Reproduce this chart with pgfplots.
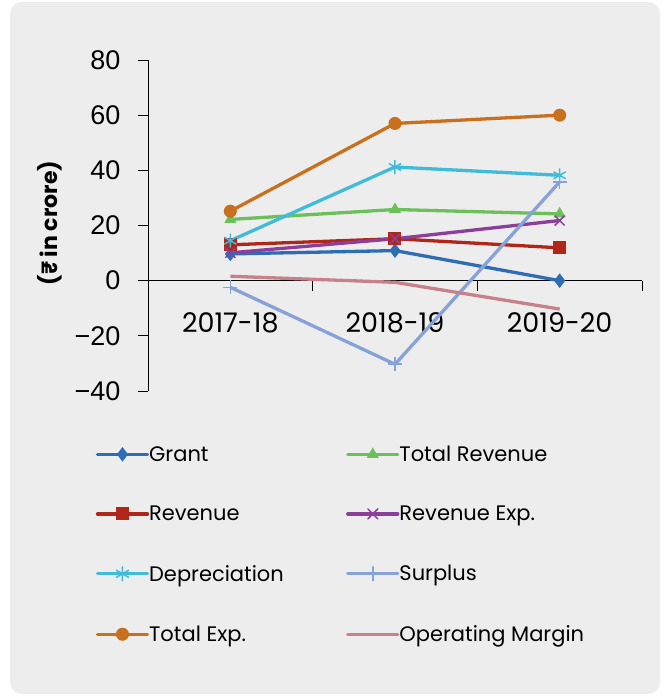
\documentclass[border=0pt]{standalone}
\usepackage{pgfplots}
\pgfplotsset{compat=1.18}
\usepackage{fontspec}
\setmainfont{Poppins}
\newfontfamily\arialfont{Liberation Sans}
\definecolor{bgc}{HTML}{EDEDED}
\definecolor{cGrant}{HTML}{2E6DB4}
\definecolor{cTotRev}{HTML}{6CC05A}
\definecolor{cRev}{HTML}{B0271A}
\definecolor{cRevExp}{HTML}{8B3F9B}
\definecolor{cDep}{HTML}{40BCDB}
\definecolor{cSur}{HTML}{86A2D8}
\definecolor{cTotExp}{HTML}{C8701E}
\definecolor{cOM}{HTML}{C8808A}
\begin{document}
\begin{tikzpicture}[x=1pt,y=1pt]
\fill[white] (0,0) rectangle (669,697);
\fill[bgc, rounded corners=12pt] (10,3) rectangle (660,695);
% category axis drawn at y = 0 of the value axis
\begin{axis}[
  at={(148pt,417pt)}, anchor=south west,
  scale only axis, width=494pt, height=20pt,
  xmin=-0.5, xmax=2.5, ymin=0, ymax=1,
  axis y line=none, axis x line=bottom,
  axis line style={-, black, line width=0.8pt},
  tick align=outside, major tick length=0pt,
  xtick={0,1,2}, xticklabels={2017-18,2018-19,2019-20},
  xtick style={draw=none},
  xticklabel style={font=\fontsize{27}{30}\selectfont, yshift=-29pt},
]
\end{axis}
\begin{axis}[
  at={(148pt,306pt)}, anchor=south west,
  scale only axis, width=494pt, height=331pt,
  xmin=-0.5, xmax=2.5, ymin=-40, ymax=80,
  axis y line=left, axis x line=none,
  axis line style={-, black, line width=0.8pt},
  tick align=outside, major tick length=10pt,
  ytick={-40,-20,0,20,40,60,80},
  yticklabels={−40,−20,0,20,40,60,80},
  yticklabel style={font=\arialfont\fontsize{27}{30}\selectfont, xshift=-14pt},
  ytick style={draw=black, line width=0.8pt},
  ylabel={\bfseries (₹ in crore)},
  ylabel style={at={(axis description cs:-0.198,0.507)}, anchor=center, font=\fontsize{22}{26}\selectfont},
  clip=false,
  legend columns=2,
  legend cell align=left,
  legend style={at={(axis description cs:-0.106,-0.159)}, anchor=north west, draw=none, fill=none,
    font=\fontsize{21}{25}\selectfont, inner sep=0pt, row sep=39pt, column sep=0pt,
    nodes={inner xsep=0pt, inner ysep=2pt}},
  legend image code/.code={\draw[mark repeat=2,mark phase=2,line cap=round,#1] plot coordinates {(0pt,0pt)(25pt,0pt)(50pt,0pt)};},
  every axis plot/.append style={line width=3.3pt},
]
% category separator ticks hanging below the zero line
\addplot[black, line width=0.8pt, no marks, forget plot] coordinates {(0.5,0) (0.5,-3.7)};
\addplot[black, line width=0.8pt, no marks, forget plot] coordinates {(1.5,0) (1.5,-3.7)};
\addplot[black, line width=0.8pt, no marks, forget plot] coordinates {(2.5,0) (2.5,-3.7)};
\addplot[cGrant, mark=diamond*, mark size=6.5pt, mark options={line width=1pt}] coordinates {(0,9.7) (1,10.9) (2,0)};
\addlegendentry{\makebox[197pt][l]{Grant}}
\addplot[cTotRev, mark=triangle*, mark size=6pt, mark options={line width=1pt}] coordinates {(0,22.2) (1,25.8) (2,24.2)};
\addlegendentry{Total Revenue}
\addplot[cRev, mark=square*, mark size=6pt, mark options={line width=1pt}] coordinates {(0,13) (1,15.2) (2,11.9)};
\addlegendentry{\makebox[197pt][l]{Revenue}}
\addplot[cRevExp, mark=x, mark size=7pt, mark options={line width=1.5pt}] coordinates {(0,10.1) (1,15.2) (2,21.8)};
\addlegendentry{Revenue Exp.}
\addplot[cDep, mark=asterisk, mark size=7pt, mark options={line width=1.5pt}] coordinates {(0,14.5) (1,41.2) (2,38.2)};
\addlegendentry{\makebox[197pt][l]{Depreciation}}
\addplot[cSur, mark=+, mark size=7pt, mark options={line width=1.5pt}] coordinates {(0,-2.4) (1,-30.3) (2,35.8)};
\addlegendentry{Surplus}
\addplot[cTotExp, mark=*, mark size=6pt, mark options={line width=1pt}] coordinates {(0,25.2) (1,57.0) (2,60.0)};
\addlegendentry{\makebox[197pt][l]{Total Exp.}}
\addplot[cOM, no marks] coordinates {(0,1.6) (1,-0.6) (2,-10.3)};
\addlegendentry{Operating Margin}
\end{axis}
\end{tikzpicture}
\end{document}
